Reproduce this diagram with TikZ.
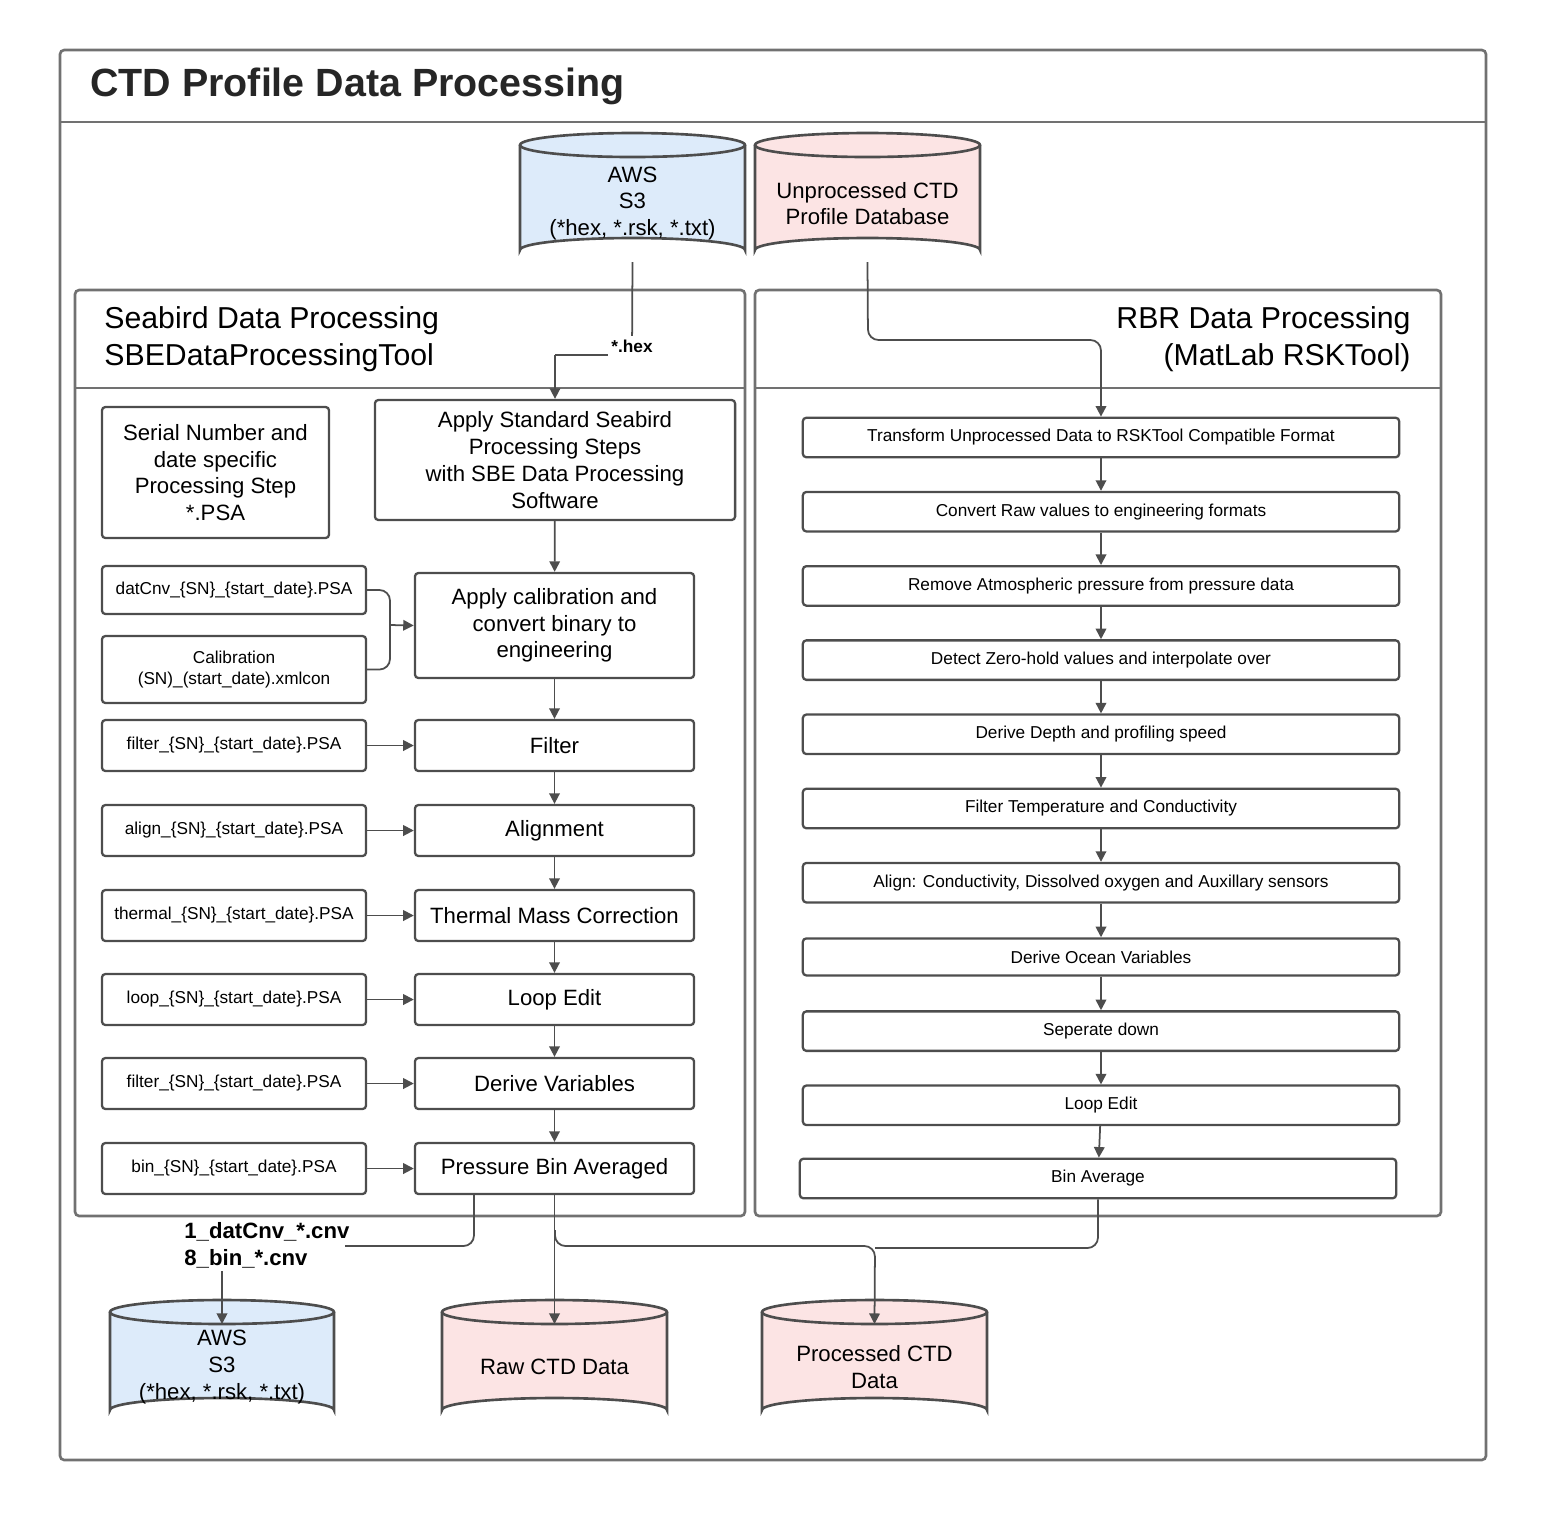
\documentclass[tikz,border=0pt]{standalone}
\usepackage{fontspec}
\setmainfont{Liberation Sans}
\usetikzlibrary{arrows.meta}
\definecolor{edge}{HTML}{4D4D4D}
\definecolor{awsblue}{HTML}{DDEBFA}
\definecolor{dbpink}{HTML}{FCE4E4}
\tikzset{
  frame/.style={draw=edge!80, line width=0.75pt, rounded corners=1.2pt},
  procstep/.style={draw=edge, line width=0.65pt, rounded corners=1pt, align=center, font=\fontsize{6.3}{7.6}\selectfont},
  psa/.style={draw=edge, line width=0.65pt, rounded corners=1pt, align=center, font=\fontsize{4.9}{5.9}\selectfont},
  rbr/.style={draw=edge, line width=0.65pt, rounded corners=1pt, font=\fontsize{4.9}{5.9}\selectfont},
  flow/.style={draw=edge, line width=0.5pt, -{Triangle[length=3pt,width=3pt]}},
  wire/.style={draw=edge, line width=0.5pt},
}
% cylinder from corner (x1,y1) to (x2,y2), named node in the middle
\newcommand{\dbcyl}[7]{%
  \fill[#6] (#2,#3+12) arc[start angle=180,end angle=360,x radius={(#4-#2)/2},y radius=12]
    -- (#4,#5-12) arc[start angle=0,end angle=-180,x radius={(#4-#2)/2},y radius=12] -- cycle;
  \draw[draw=edge, line width=0.75pt] (#2,#3+12) -- (#2,#5-12)
    arc[start angle=180,end angle=360,x radius={(#4-#2)/2},y radius=12] -- (#4,#3+12);
  \draw[draw=edge, line width=0.75pt] ({(#2+#4)/2},#3+12) ellipse[x radius={(#4-#2)/2},y radius=12];
  \node[align=center, font=\fontsize{6.3}{7.6}\selectfont]
    (#1) at ({(#2+#4)/2},{(#3+#5)/2+6}) {#7};
  \coordinate (#1 top) at ({(#2+#4)/2},#3+24);
  \coordinate (#1 bot) at ({(#2+#4)/2},#5);
}
\begin{document}
\begin{tikzpicture}[x=0.01cm, y=-0.01cm]
\useasboundingbox (0,0) rectangle (1563,1523);
% outer frame
\draw[frame] (60,50) rectangle (1486,1460);
\draw[frame, rounded corners=0] (60,122) -- (1486,122);
\node[anchor=west, font=\fontsize{11.2}{13}\selectfont\bfseries, text=black!85] at (78,86) {CTD Profile Data Processing};
% panels
\draw[frame] (75,290) rectangle (745,1216);
\draw[frame, rounded corners=0] (75,388) -- (745,388);
\node[anchor=west, align=left, font=\fontsize{8.6}{10.6}\selectfont] at (92,339) {Seabird Data Processing\\SBEDataProcessingTool};
\draw[frame] (755,290) rectangle (1441,1216);
\draw[frame, rounded corners=0] (755,388) -- (1441,388);
\node[anchor=east, align=right, font=\fontsize{8.6}{10.6}\selectfont] at (1423,339) {RBR Data Processing\\(MatLab RSKTool)};
% databases
\dbcyl{s3in}{520}{133}{745}{262}{awsblue}{AWS\\S3\\(*hex, *.rsk, *.txt)}
\dbcyl{rawdb}{755}{133}{980}{262}{dbpink}{Unprocessed CTD\\Profile Database}
\dbcyl{s3out}{110}{1300}{334}{1422}{awsblue}{AWS\\S3\\(*hex, *.rsk, *.txt)}
\dbcyl{rawctd}{442}{1300}{667}{1422}{dbpink}{Raw CTD Data}
\dbcyl{procctd}{762}{1300}{987}{1422}{dbpink}{Processed CTD\\Data}
% seabird steps
\node[procstep, minimum width=2.27cm, minimum height=1.31cm] (serial) at (215.5,472.5) {Serial Number and\\date specific\\Processing Step\\*.PSA};
\node[procstep, minimum width=3.6cm, minimum height=1.2cm] (std) at (555,460) {Apply Standard Seabird\\Processing Steps\\with SBE Data Processing\\Software};
\node[procstep, minimum width=2.79cm, minimum height=1.05cm] (calib) at (554.5,625.5) {Apply calibration and\\convert binary to\\engineering};
\foreach \nm/\y/\txt in {filt/745.5/Filter, align/830.5/Alignment, therm/915.5/Thermal Mass Correction,
    loop/999.5/Loop Edit, derive/1083.5/Derive Variables, bin/1168.5/Pressure Bin Averaged} {
  \node[procstep, minimum width=2.79cm, minimum height=0.51cm] (\nm) at (554.5,\y) {\txt};
}
\node[psa, minimum width=2.64cm, minimum height=0.48cm] (fdatcnv) at (234,590) {datCnv\_\{SN\}\_\{start\_date\}.PSA};
\node[psa, minimum width=2.64cm, minimum height=0.67cm] (fcal) at (234,669.5) {Calibration\\(SN)\_(start\_date).xmlcon};
\foreach \nm/\y/\txt in {filt/745.5/filter, align/830.5/align, therm/915.5/thermal,
    loop/999.5/loop, derive/1083.5/filter, bin/1168.5/bin} {
  \node[psa, minimum width=2.64cm, minimum height=0.51cm] (f\nm) at (234,\y) {\txt\_\{SN\}\_\{start\_date\}.PSA};
  \draw[flow] (f\nm) -- (\nm);
}
\draw[wire, rounded corners=3pt] (fdatcnv.east) -- (390,590) -- (390,625);
\draw[wire, rounded corners=3pt] (fcal.east) -- (390,669.5) -- (390,625);
\draw[flow] (390,625) -- (calib.west);
\draw[flow] (std) -- (calib);
\draw[flow] (calib) -- (filt);
\foreach \a/\b in {filt/align, align/therm, therm/loop, loop/derive, derive/bin} {
  \draw[flow] (\a) -- (\b);
}
% rbr steps
\foreach \i/\txt in {0/Transform Unprocessed Data to RSKTool Compatible Format,
    1/Convert Raw values to engineering formats, 2/Remove Atmospheric pressure from pressure data,
    3/Detect Zero-hold values and interpolate over, 4/Derive Depth and profiling speed,
    5/Filter Temperature and Conductivity, 6/{Align: Conductivity, Dissolved oxygen and Auxillary sensors},
    7/Derive Ocean Variables, 8/Seperate down/up cast sections, 9/Loop Edit} {
  \node[rbr, minimum width=5.96cm, minimum height=0.37cm] (r\i) at (1101,437.5+74.2*\i) {\txt};
}
\node[rbr, minimum width=5.96cm, minimum height=0.37cm] (r10) at (1098,1178.5) {Bin Average};
\foreach \i [evaluate=\i as \j using int(\i+1)] in {0,...,9} {
  \draw[flow] (r\i) -- (r\j);
}
% inputs
\draw[wire] (s3in bot) -- (632,355) -- (555,355);
\draw[flow] (555,355) -- (std.north);
\node[font=\fontsize{4.9}{5.9}\selectfont\bfseries, fill=white, inner sep=1pt] at (632,346) {*.hex};
\draw[flow, rounded corners=3pt] (rawdb bot) -- (868,340) -- (1101,340) -- (r0.north);
% outputs
\draw[wire, rounded corners=3pt] (474,1194) -- (474,1246) -- (345,1246);
\node[anchor=west, align=left, font=\fontsize{6.3}{7.6}\selectfont\bfseries] at (172,1245) {1\_datCnv\_*.cnv\\8\_bin\_*.cnv};
\draw[flow] (222,1271) -- (s3out top);
\draw[flow] (bin) -- (rawctd top);
\draw[flow, rounded corners=3pt] (555,1230) -- (555,1246) -- (875,1246) -- (procctd top);
\draw[wire, rounded corners=3pt] (r10) -- (1098,1248) -- (875,1248);
\end{tikzpicture}
\end{document}
